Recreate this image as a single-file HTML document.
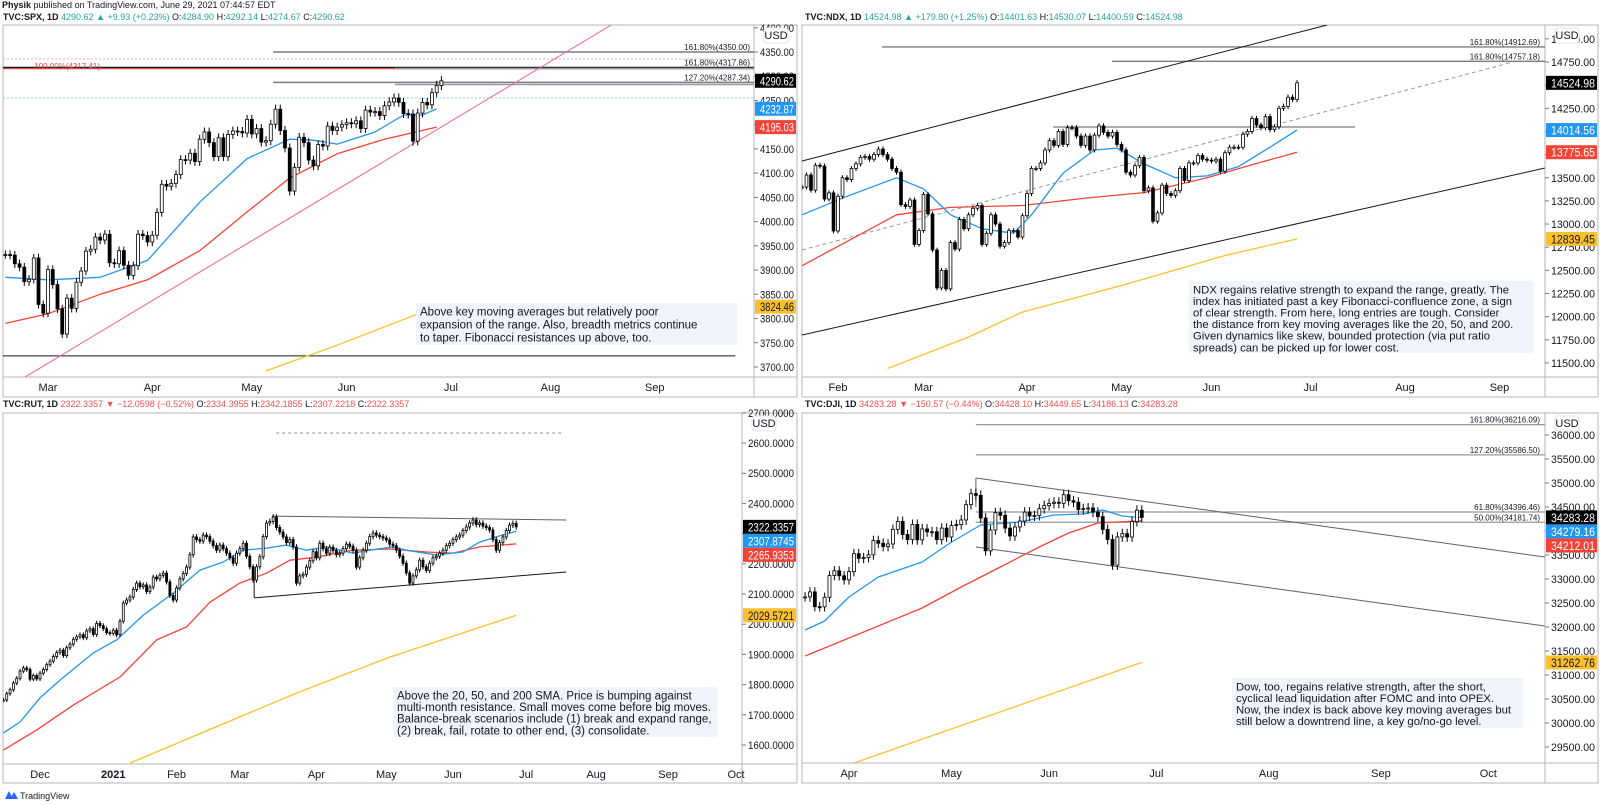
<!DOCTYPE html>
<html><head><meta charset="utf-8">
<style>
html,body{margin:0;padding:0;background:#fff;}
svg{display:block;font-family:"Liberation Sans",sans-serif;}
</style></head>
<body>
<svg id="chart" width="1600" height="805" viewBox="0 0 1600 805" xmlns="http://www.w3.org/2000/svg"></svg>
<script>
// ===== DATA =====
const spxClose=[3932,3931,3913,3906,3876,3881,3925,3829,3811,
3901,3870,3820,3768,3842,3821,3875,3898,3939,3943,3968,3962,3974,3915,3913,3940,3910,3889,3909,3974,3971,3958,3972,
4019,4077,4073,4079,4097,4128,4127,4141,4124,4170,4185,4163,4134,4173,4134,4180,4187,4186,4183,4211,4181,
4192,4164,4167,4201,4232,4188,4152,4063,4112,4174,4163,4127,4115,4159,4156,4197,4188,4195,4200,4204,
4202,4208,4192,4230,4226,4227,4219,4239,4247,4255,4246,4223,4222,4166,4224,4246,4241,4266,4281,4290.62];
const spxMa20Idx=[0,9,20,30,41,51,60,65,70,78,84,88,91];
const spxMa20Val=[3885,3880,3885,3920,4040,4130,4170,4168,4160,4185,4220,4220,4232.87];
const spxMa50Idx=[0,9,20,30,41,51,60,70,80,91];
const spxMa50Val=[3790,3810,3850,3880,3940,4020,4090,4140,4170,4195.03];
const spxMa200Idx=[55,70,80,91];
const spxMa200Val=[3692,3745,3783,3824.46];
const spxTicks=[3700,3750,3800,3850,3900,3950,4000,4050,4100,4150,4200,4250,4300,4350,4400];
const spxMonths=['Mar','Apr','May','Jun','Jul','Aug','Sep'];
const spxMonthIdx=[9,31,52,72,94,115,137];

const ndxClose=[13400,13530,13366,13635,13626,13270,13337,12925,
13300,13500,13480,13600,13650,13720,13730,13700,13750,13810,13750,13700,13600,13560,13210,13190,13260,12780,12930,
13320,13110,12720,12310,12500,12300,12800,12730,13050,12950,13100,13170,13200,12780,12900,13100,13000,12760,12800,12930,12930,12860,13090,
13330,13600,13600,13660,13800,13900,13850,14000,13860,14040,14040,13950,13850,13950,13800,13960,14060,13990,13950,13990,13860,
13800,13560,13530,13630,13720,13360,13390,13030,13120,13420,13330,13310,13360,13600,13470,13660,13660,13740,13700,13690,
13680,13700,13570,13770,13830,13830,13830,13970,14000,14140,14070,14040,14160,14020,14050,14250,14270,14370,14345,14524.98];
const ndxMa20Idx=[0,10,21,27,33,40,47,51,58,65,70,76,83,90,97,104,110];
const ndxMa20Val=[13100,13300,13500,13380,13100,12950,12900,13100,13550,13800,13820,13650,13500,13520,13620,13830,14014.56];
const ndxMa50Idx=[0,21,33,49,63,76,90,100,110];
const ndxMa50Val=[12550,13100,13180,13200,13280,13340,13500,13640,13775.65];
const ndxMa200Idx=[19,37,49,72,94,110];
const ndxMa200Val=[11440,11780,12050,12350,12660,12839.45];
const ndxTicks=[11500,11750,12000,12250,12500,12750,13000,13250,13500,13750,14000,14250,14500,14750,15000];
const ndxMonths=['Feb','Mar','Apr','May','Jun','Jul','Aug','Sep'];
const ndxMonthIdx=[8,27,50,71,91,113,134,155];

const rutClose=[1749,1770,1783,1805,1821,1845,1855,1850,1818,1830,1819,
1838,1850,1866,1878,1893,1906,1914,1896,1922,1934,1950,
1958,1965,1955,1978,1985,1966,2003,1995,1985,1972,1970,1980,1965,2010,2070,2080,2090,2115,2136,2124,2130,2108,2123,2156,2150,2162,2169,2140,2095,2080,2120,2150,2168,2189,2230,2289,2280,2275,2295,2290,2275,2260,2245,2262,2250,2235,2220,2202,2235,2250,2268,2225,2190,2146,2190,2223,2290,2335,2340,2355,2320,2305,2289,2270,2280,2256,2136,2160,2165,2189,2210,2240,2220,2268,2250,2235,2255,2244,2230,2235,2250,2265,2258,2245,2189,2220,2245,2268,2290,2302,2295,2290,2285,2279,2265,2260,2245,2225,2202,2170,2136,2160,2180,2212,2190,2178,2202,2220,2225,2235,2245,2260,2268,2280,2289,2295,2310,2322,2335,2345,2330,2335,2325,2320,2312,2280,2245,2270,2289,2310,2328,2334,2322.34];
const rutMa20Idx=[0,5,11,17,27,34,42,51,59,66,72,79,85,91,97,105,110,117,121,130,138,143,148,154];
const rutMa20Val=[1640,1676,1756,1815,1905,1948,2030,2103,2179,2206,2245,2252,2262,2245,2256,2235,2245,2256,2245,2229,2239,2272,2289,2307.87];
const rutMa50Idx=[0,10,21,35,46,55,62,71,79,86,94,105,116,127,135,143,154];
const rutMa50Val=[1583,1650,1732,1825,1948,1991,2073,2136,2169,2212,2222,2245,2249,2239,2235,2256,2265.94];
const rutMa200Idx=[38,88,116,154];
const rutMa200Val=[1540,1772,1891,2029.57];
const rutTicks=[1600,1700,1800,1900,2000,2100,2200,2300,2400,2500,2600,2700];
const rutMonths=['Dec','2021','Feb','Mar','Apr','May','Jun','Jul','Aug','Sep','Oct'];
const rutMonthIdx=[11,33,52,71,94,115,135,157,178,199.6,220];

const djiClose=[32627,32731,32423,32420,32619,33072,33171,33067,32982,
33153,33527,33430,33446,33503,33800,33745,33677,33730,34035,34200,33927,33821,34137,33815,34043,33981,33984,33820,34060,33875,
34113,34133,34230,34548,34778,34743,34270,33587,34021,34382,34327,34060,33896,34084,34208,34394,34312,34323,34465,34529,
34575,34600,34577,34756,34630,34600,34447,34466,34480,34393,34299,34033,33823,33290,33876,33945,33874,34196,34433,34283.28];
const djiMa20Idx=[-9,-5,0,6,15,21,27,35,42,48,52,56,60];
const djiMa20Val=[31938,32125,32625,33042,33354,33771,34125,34188,34333,34354,34438,34313,34279.16];
const djiMa50Idx=[-9,-5,4,15,23,31,39,45,51,60];
const djiMa50Val=[31396,31563,31938,32396,32833,33250,33667,33958,34167,34212.01];
const djiMa200Idx=[1,60];
const djiMa200Val=[29167,31262.76];
const djiTicks=[29500,30000,30500,31000,31500,32000,32500,33000,33500,34000,34500,35000,35500,36000];
const djiMonths=['Apr','May','Jun','Jul','Aug','Sep','Oct'];
const djiMonthIdx=[0,21,41,63,86,109,131];

// ===== HELPERS =====
const NS='http://www.w3.org/2000/svg';
const svg=document.getElementById('chart');
function mk(tag,attrs,parent){const e=document.createElementNS(NS,tag);for(const k in attrs)e.setAttribute(k,attrs[k]);(parent||svg).appendChild(e);return e;}
function txt(str,attrs,parent){const t=mk('text',attrs,parent);t.textContent=str;return t;}

function panel(cfg){
  const g=mk('g',{});
  
  
  const fr=mk('rect',{x:cfg.fx0,y:cfg.fy0,width:cfg.fx1-cfg.fx0,height:cfg.fy1-cfg.fy0,fill:'#fff',stroke:'#b2b5be','stroke-width':1},g);
  
  
  const av=mk('line',{x1:cfg.ax,x2:cfg.ax,y1:cfg.fy0,y2:cfg.fy1,stroke:'#b2b5be'},g);
  
  
  const ah=mk('line',{x1:cfg.fx0,x2:cfg.fx1,y1:cfg.py1,y2:cfg.py1,stroke:'#b2b5be'},g);
  
  
  return g;
}
function ticks(g,cfg,list,dec){
  const tw=cfg.fx1-cfg.ax-9;
  for(const v of list){
    const y=cfg.ys(v);
    const tk=mk('line',{x1:cfg.ax,x2:cfg.ax+4,y1:y,y2:y,stroke:'#787b86'},g);
    
    
    const t=txt(v.toFixed(dec),{x:cfg.ax+6,y:y+4,'font-size':11,fill:'#131722',textLength:tw,lengthAdjust:'spacingAndGlyphs'},g);
    
    
  }
  const ub=mk('rect',{x:cfg.ax+10,y:cfg.fy0+3,width:24,height:15,rx:3,fill:'#fff',stroke:'#e0e3eb'},g);
  
  
  const ut=txt('USD',{x:cfg.ax+22,y:cfg.fy0+14,'font-size':11,fill:'#131722','text-anchor':'middle'},g);
  
  
}
function months(g,cfg,names,idx){
  for(let i=0;i<names.length;i++){
    const x=cfg.xs(idx[i]);
    const t=txt(names[i],{x:x,y:cfg.py1+14,'font-size':11,fill:'#131722','text-anchor':'middle','font-weight':names[i]==='2021'?'bold':'normal'},g);
    
    
  }
}
function candles(g,cfg,closes,offset,bw,wk){
  for(let i=0;i<closes.length;i++){
    const c=closes[i];const o=i>0?closes[i-1]:c;
    const x=cfg.xs(i+offset);
    const hi=Math.max(o,c)*(1+wk),lo=Math.min(o,c)*(1-wk);
    const w=mk('line',{x1:x,x2:x,y1:cfg.ys(hi),y2:cfg.ys(lo),stroke:'#000','stroke-width':1},g);
    
    
    const top=cfg.ys(Math.max(o,c)),bot=cfg.ys(Math.min(o,c));
    const b=mk('rect',{x:x-bw/2,y:top,width:bw,height:Math.max(1,bot-top),fill:c>=o?'#fff':'#000',stroke:'#000','stroke-width':0.8},g);
    
    
  }
}
function maLine(g,cfg,idx,vals,color,name){
  const pts=idx.map((k,i)=>cfg.xs(k).toFixed(1)+','+cfg.ys(vals[i]).toFixed(1)).join(' ');
  const p=mk('polyline',{points:pts,fill:'none',stroke:color,'stroke-width':1.3,'stroke-linejoin':'round'},g);
  
  
}
function priceTags(g,cfg,tags,dec){
  // tags: [value,bg,fg,name]; stacked downward to avoid overlap
  let prevY=-1e9;
  const tw=cfg.fx1-cfg.ax-9;
  for(const [v,bg,fg,name] of tags){
    let y=cfg.ys(v);
    if(y<prevY+14)y=prevY+14;
    prevY=y;
    const r=mk('rect',{x:cfg.ax+1,y:y-7,width:cfg.fx1-cfg.ax-2,height:14,fill:bg},g);
    
    
    const t=txt(v.toFixed(dec),{x:cfg.ax+6,y:y+4.5,'font-size':11.5,fill:fg,textLength:tw,lengthAdjust:'spacingAndGlyphs'},g);
    
    
  }
}
function seg(g,x1,y1,x2,y2,color,name,extra){
  const a={x1:x1,y1:y1,x2:x2,y2:y2,stroke:color,'stroke-width':1};
  if(extra)for(const k in extra)a[k]=extra[k];
  const l=mk('line',a,g);
  
  
  return l;
}
function fibLabel(g,x,y,str,color){
  const t=txt(str,{x:x,y:y-2,'font-size':8,fill:color||'#131722','text-anchor':'end'},g);
  
  
}
function note(g,x,y,w,h,lines,fs,lh,name){
  const r=mk('rect',{x:x,y:y,width:w,height:h,fill:'#f0f3fa'},g);
  
  
  lines.forEach((s,i)=>{
    const t=txt(s,{x:x+4,y:y+fs+1+i*lh,'font-size':fs,fill:'#131722'},g);
    
    
  });
}
function header(x,y,parts,name){
  const t=mk('text',{x:x,y:y,'font-size':9});
  
  
  for(const [s,c,b] of parts){const sp=mk('tspan',{fill:c,'font-weight':b?'bold':'normal'},t);sp.textContent=s;}
}

// ===== TOP HEADER =====
header(2,8,[['Physik','#131722',1],[' published on TradingView.com, June 29, 2021 07:44:57 EDT','#131722',0]],'publish-info');
const G='#26a69a',R='#ef5350',K='#131722';
header(3,20,[['TVC:SPX, 1D ',K,1],['4290.62 ',G],['▲ +9.93 (+0.23%) ',G],['O:',K],['4284.90 ',G],['H:',K],['4292.14 ',G],['L:',K],['4274.67 ',G],['C:',K],['4290.62',G]],'spx-legend');
header(805,20,[['TVC:NDX, 1D ',K,1],['14524.98 ',G],['▲ +179.80 (+1.25%) ',G],['O:',K],['14401.63 ',G],['H:',K],['14530.07 ',G],['L:',K],['14400.59 ',G],['C:',K],['14524.98',G]],'ndx-legend');
header(3,407,[['TVC:RUT, 1D ',K,1],['2322.3357 ',R],['▼ −12.0598 (−0.52%) ',R],['O:',K],['2334.3955 ',R],['H:',K],['2342.1855 ',R],['L:',K],['2307.2218 ',R],['C:',K],['2322.3357',R]],'rut-legend');
header(805,407,[['TVC:DJI, 1D ',K,1],['34283.28 ',R],['▼ −150.57 (−0.44%) ',R],['O:',K],['34428.10 ',R],['H:',K],['34449.65 ',R],['L:',K],['34186.13 ',R],['C:',K],['34283.28',R]],'dji-legend');

// ===== SPX (top-left) =====
(function(){
  const cfg={name:'spx',fx0:3,fx1:797,fy0:25,fy1:397,ax:754,py1:377,
    xs:i=>5.34+i*4.74, ys:v=>52+(4350-v)*0.4846};
  const g=panel(cfg);
  const clip=mk('clipPath',{id:'c1'});mk('rect',{x:3,y:25,width:751,height:352},clip);
  const pg=mk('g',{'clip-path':'url(#c1)'},g);
  
  
  seg(pg,3,cfg.ys(4335.6),754,cfg.ys(4335.6),'#f7a8b0','dotted-resistance',{'stroke-dasharray':'2,2'});
  seg(pg,3,cfg.ys(4255),754,cfg.ys(4255),'#90caf9','dotted-support',{'stroke-dasharray':'2,2'});
  seg(pg,3,cfg.ys(4318),754,cfg.ys(4318),'#131722','horizontal-resistance',{'stroke-width':1.5});
  seg(pg,3,cfg.ys(4317.41)+1,754,cfg.ys(4317.41)+1,'#f44336','fib-100-line');
  seg(pg,cfg.xs(56.5),cfg.ys(4350),754,cfg.ys(4350),'#787b86','fib-161-line',{'stroke-width':1.5});
  seg(pg,cfg.xs(82.2),cfg.ys(4316),754,cfg.ys(4316),'#9598a1','fib-161b-line',{'stroke-width':1.5});
  seg(pg,cfg.xs(56.5),cfg.ys(4287.34),754,cfg.ys(4287.34),'#787b86','fib-127-line',{'stroke-width':1.5});
  seg(pg,cfg.xs(82.2),cfg.ys(4283),754,cfg.ys(4283),'#9598a1','fib-127b-line',{'stroke-width':1.5});
  seg(pg,cfg.xs(-1),cfg.ys(3723),cfg.xs(154),cfg.ys(3723),'#131722','march-low-line');
  seg(pg,cfg.xs(4.1),cfg.ys(3679),cfg.xs(127.8),cfg.ys(4405.7),'#f06292','rising-trendline');
  maLine(pg,cfg,spxMa200Idx,spxMa200Val,'#fbc02d','sma200-line');
  maLine(pg,cfg,spxMa50Idx,spxMa50Val,'#f44336','sma50-line');
  maLine(pg,cfg,spxMa20Idx,spxMa20Val,'#2196f3','sma20-line');
  candles(pg,cfg,spxClose,0,3,0.0022);
  fibLabel(g,750,cfg.ys(4350),'161.80%(4350.00)');
  fibLabel(g,750,cfg.ys(4317.86),'161.80%(4317.86)');
  fibLabel(g,750,cfg.ys(4287.34),'127.20%(4287.34)');
  fibLabel(g,100,cfg.ys(4317.41)+3,'100.00%(4317.41)','#f44336');
  note(g,416,303,321,42,['Above key moving averages but relatively poor','expansion of the range. Also, breadth metrics continue','to taper. Fibonacci resistances up above, too.'],11.5,13,'spx-annotation');
  ticks(g,cfg,spxTicks,2);
  priceTags(g,cfg,[[4290.62,'#000','#fff','spx-last-price'],[4232.87,'#2196f3','#fff','spx-sma20-price'],[4195.03,'#f44336','#fff','spx-sma50-price'],[3824.46,'#fbc02d','#131722','spx-sma200-price']],2);
  months(g,cfg,spxMonths,spxMonthIdx);
})();

// ===== NDX (top-right) =====
(function(){
  const cfg={name:'ndx',fx0:802,fx1:1598,fy0:25,fy1:397,ax:1545,py1:377,
    xs:i=>802+i*4.5, ys:v=>62+(14750-v)*0.0926};
  const g=panel(cfg);
  const clip=mk('clipPath',{id:'c2'});mk('rect',{x:802,y:25,width:743,height:352},clip);
  const pg=mk('g',{'clip-path':'url(#c2)'},g);
  
  
  seg(pg,cfg.xs(17.8),cfg.ys(14912.69),1545,cfg.ys(14912.69),'#787b86','fib-161-line',{'stroke-width':1.3});
  seg(pg,cfg.xs(68.9),cfg.ys(14757.18),1545,cfg.ys(14757.18),'#787b86','fib-161b-line',{'stroke-width':1.3});
  seg(pg,cfg.xs(0),cfg.ys(13681),cfg.xs(116.7),cfg.ys(15150),'#131722','upper-channel-line');
  seg(pg,cfg.xs(0),cfg.ys(11802),cfg.xs(165.1),cfg.ys(13605),'#131722','lower-channel-line');
  seg(pg,cfg.xs(0),cfg.ys(12720),cfg.xs(158),cfg.ys(14750),'#9598a1','median-dashed-line',{'stroke-dasharray':'4,3'});
  seg(pg,cfg.xs(55.8),cfg.ys(14048),cfg.xs(122.9),cfg.ys(14048),'#787b86','horizontal-breakout-line',{'stroke-width':1.3});
  maLine(pg,cfg,ndxMa200Idx,ndxMa200Val,'#fbc02d','sma200-line');
  maLine(pg,cfg,ndxMa50Idx,ndxMa50Val,'#f44336','sma50-line');
  maLine(pg,cfg,ndxMa20Idx,ndxMa20Val,'#2196f3','sma20-line');
  candles(pg,cfg,ndxClose,0,2.8,0.002);
  fibLabel(g,1540,cfg.ys(14912.69),'161.80%(14912.69)');
  fibLabel(g,1540,cfg.ys(14757.18),'161.80%(14757.18)');
  note(g,1189,281,344,72,['NDX regains relative strength to expand the range, greatly. The','index has initiated past a key Fibonacci-confluence zone, a sign','of clear strength. From here, long entries are tough. Consider','the distance from key moving averages like the 20, 50, and 200.','Given dynamics like skew, bounded protection (via put ratio','spreads) can be picked up for lower cost.'],11.3,11.6,'ndx-annotation');
  ticks(g,cfg,ndxTicks,2);
  priceTags(g,cfg,[[14524.98,'#000','#fff','ndx-last-price'],[14014.56,'#2196f3','#fff','ndx-sma20-price'],[13775.65,'#f44336','#fff','ndx-sma50-price'],[12839.45,'#fbc02d','#131722','ndx-sma200-price']],2);
  months(g,cfg,ndxMonths,ndxMonthIdx);
})();

// ===== RUT (bottom-left) =====
(function(){
  const cfg={name:'rut',fx0:3,fx1:797,fy0:413,fy1:783,ax:742,py1:764,
    xs:k=>3.4+k*3.33, ys:v=>443+(2600-v)*0.302};
  const g=panel(cfg);
  const clip=mk('clipPath',{id:'c3'});mk('rect',{x:3,y:413,width:739,height:351},clip);
  const pg=mk('g',{'clip-path':'url(#c3)'},g);
  
  
  seg(pg,cfg.xs(81.9),cfg.ys(2633),cfg.xs(168),cfg.ys(2633),'#b2b5be','dotted-target-line',{'stroke-dasharray':'3,3','stroke-width':1.5});
  seg(pg,cfg.xs(80.7),cfg.ys(2358),cfg.xs(169),cfg.ys(2345),'#5d606b','triangle-upper-line');
  seg(pg,cfg.xs(75.3),cfg.ys(2087),cfg.xs(169),cfg.ys(2173),'#131722','triangle-lower-line');
  seg(pg,cfg.xs(75.3),cfg.ys(2087),cfg.xs(75.3),cfg.ys(2186),'#131722','triangle-left-edge');
  maLine(pg,cfg,rutMa200Idx,rutMa200Val,'#fbc02d','sma200-line');
  maLine(pg,cfg,rutMa50Idx,rutMa50Val,'#f44336','sma50-line');
  maLine(pg,cfg,rutMa20Idx,rutMa20Val,'#2196f3','sma20-line');
  candles(pg,cfg,rutClose,0,2,0.004);
  note(g,393,687,324,50,['Above the 20, 50, and 200 SMA. Price is bumping against','multi-month resistance. Small moves come before big moves.','Balance-break scenarios include (1) break and expand range,','(2) break, fail, rotate to other end, (3) consolidate.'],11.5,11.6,'rut-annotation');
  ticks(g,cfg,rutTicks,4);
  priceTags(g,cfg,[[2322.3357,'#000','#fff','rut-last-price'],[2307.8745,'#2196f3','#fff','rut-sma20-price'],[2265.9353,'#f44336','#fff','rut-sma50-price'],[2029.5721,'#fbc02d','#131722','rut-sma200-price']],4);
  months(g,cfg,rutMonths,rutMonthIdx);
})();

// ===== DJI (bottom-right) =====
(function(){
  const cfg={name:'dji',fx0:802,fx1:1598,fy0:413,fy1:783,ax:1545,py1:763,
    xs:j=>849+j*4.88, ys:v=>435+(36000-v)*0.048};
  const g=panel(cfg);
  const clip=mk('clipPath',{id:'c4'});mk('rect',{x:802,y:413,width:743,height:350},clip);
  const pg=mk('g',{'clip-path':'url(#c4)'},g);
  
  
  const fibs=[36216.09,35586.50,34396.46,34181.74];
  const fibNames=['161.80%(36216.09)','127.20%(35586.50)','61.80%(34396.46)','50.00%(34181.74)'];
  fibs.forEach((v,i)=>{
    seg(pg,cfg.xs(26),cfg.ys(v),1545,cfg.ys(v),'#9598a1','fib-level-line',{'stroke-width':1.3});
    fibLabel(g,1540,cfg.ys(v),fibNames[i]);
  });
  seg(pg,cfg.xs(26),cfg.ys(35104),cfg.xs(142.6),cfg.ys(33458),'#5d606b','downtrend-upper-line');
  seg(pg,cfg.xs(26),cfg.ys(33667),cfg.xs(142.6),cfg.ys(32021),'#5d606b','downtrend-lower-line');
  seg(pg,cfg.xs(26),cfg.ys(35104),cfg.xs(26),cfg.ys(34500),'#5d606b','channel-left-edge');
  maLine(pg,cfg,djiMa200Idx,djiMa200Val,'#fbc02d','sma200-line');
  maLine(pg,cfg,djiMa50Idx,djiMa50Val,'#f44336','sma50-line');
  maLine(pg,cfg,djiMa20Idx,djiMa20Val,'#2196f3','sma20-line');
  candles(pg,cfg,djiClose,-9,3,0.003);
  note(g,1232,678,291,50,['Dow, too, regains relative strength, after the short,','cyclical lead liquidation after FOMC and into OPEX.','Now, the index is back above key moving averages but','still below a downtrend line, a key go/no-go level.'],11.3,11.6,'dji-annotation');
  ticks(g,cfg,djiTicks,2);
  priceTags(g,cfg,[[34283.28,'#000','#fff','dji-last-price'],[34279.16,'#2196f3','#fff','dji-sma20-price'],[34212.01,'#f44336','#fff','dji-sma50-price'],[31262.76,'#fbc02d','#131722','dji-sma200-price']],2);
  months(g,cfg,djiMonths,djiMonthIdx);
})();

// ===== FOOTER LOGO =====
const logo=mk('g',{});


mk('path',{d:'M5 799 L9 791 L13 799 Z M10 799 L14 792 L18 799 Z',fill:'#2962ff'},logo);
const lt=txt('TradingView',{x:20,y:799,'font-size':9,fill:'#131722'},logo);


</script>
</body></html>
